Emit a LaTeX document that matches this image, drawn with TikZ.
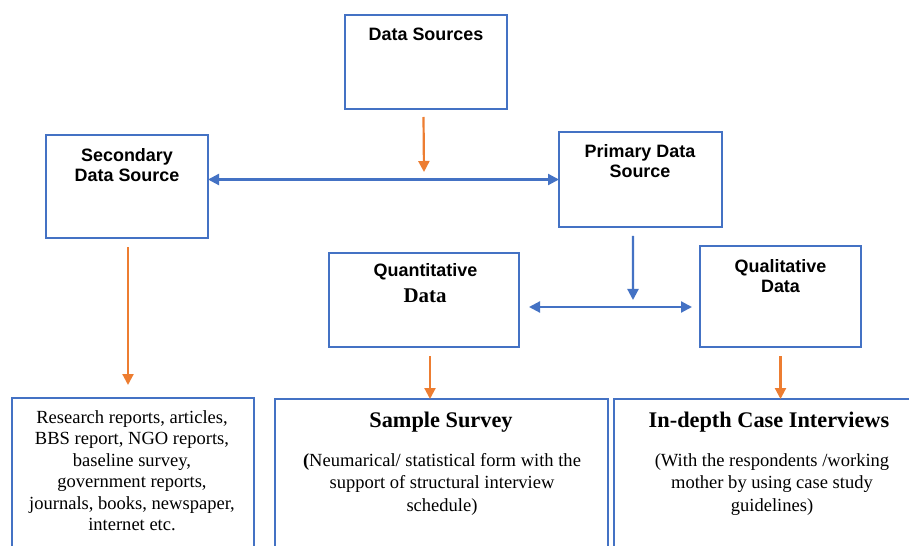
\documentclass[tikz,border=0pt]{standalone}
\usepackage{fontspec}
\setmainfont{Liberation Serif}
\newfontfamily\sansfont{Liberation Sans}
\usetikzlibrary{arrows.meta,calc}
\definecolor{boxblue}{HTML}{4472C4}
\definecolor{arrorange}{HTML}{ED7D31}
\tikzset{
  box/.style={draw=boxblue, line width=1.6bp, anchor=north west, inner sep=0pt, outer sep=0pt},
  hd/.style={font=\sansfont\bfseries\fontsize{18}{21}\selectfont, align=center, anchor=base, inner sep=0pt},
  serifhd/.style={font=\bfseries\fontsize{22.4}{26}\selectfont, align=center, anchor=base, inner sep=0pt},
  body/.style={font=\fontsize{18.6}{21.5}\selectfont, align=center, anchor=base, inner sep=0pt},
  bodyb/.style={font=\fontsize{18.6}{22.2}\selectfont, align=center, anchor=base, inner sep=0pt},
  oarr/.style={draw=arrorange, line width=2.2bp, -{Triangle[length=11bp,width=11bp]}},
  barr/.style={draw=boxblue, line width=2.2bp, -{Triangle[length=11bp,width=11bp]}},
  bdarr/.style={draw=boxblue, line width=2.2bp, {Triangle[length=11bp,width=11bp]}-{Triangle[length=11bp,width=11bp]}}
}
\begin{document}
\begin{tikzpicture}[x=1bp,y=-1bp]
\useasboundingbox (0,0) rectangle (909,546);
\clip (0,0) rectangle (909,546);
\fill[white] (0,0) rectangle (909,546);

% boxes
\node[box, minimum width=162bp, minimum height=94bp] (ds) at (345,15) {};
\node[box, minimum width=162bp, minimum height=103bp] (sec) at (46,135) {};
\node[box, minimum width=163bp, minimum height=95bp] (prim) at (559,132) {};
\node[box, minimum width=190bp, minimum height=94bp] (quant) at (329,253) {};
\node[box, minimum width=161bp, minimum height=101bp] (qual) at (700,246) {};
\node[box, minimum width=242bp, minimum height=170bp] (lit) at (12,398) {};
\node[box, minimum width=333bp, minimum height=170bp] (survey) at (275,399) {};
\node[box, minimum width=310bp, minimum height=170bp] (case) at (614,399) {};

% texts (base anchor = baseline of last line)
\node[hd] (ds-t) at (426,41) {Data Sources};
\node[hd] (sec-t) at (127,182) {Secondary\\Data Source};
\node[hd] (prim-t) at (640,178) {Primary Data\\Source};
\node[hd] (quant-t1) at (425.5,277) {Quantitative};
\node[font=\bfseries\fontsize{21}{24}\selectfont, anchor=base, inner sep=0pt] (quant-t2) at (425,303) {Data};
\node[hd] (qual-t) at (780.5,293) {Qualitative\\Data};
\node[body] (lit-t) at (132,530.5) {Research reports, articles,\\BBS report, NGO reports,\\baseline survey,\\government reports,\\journals, books, newspaper,\\internet etc.};
\node[serifhd] (survey-h) at (441,427) {Sample Survey};
\node[bodyb] (survey-t) at (442,511) {\textbf{(}Neumarical/ statistical form with the\\support of structural interview\\schedule)};
\node[serifhd] (case-h) at (769,427) {In-depth Case Interviews};
\node[bodyb] (case-t) at (772,511) {(With the respondents /working\\mother by using case study\\guidelines)};

% connectors
\coordinate (dsend) at (424,172);
\draw[oarr] ($(ds.south)+(-2.5,8)$) -- (dsend);
\draw[bdarr] (sec.east |- prim.west) -- (prim.west);
\draw[oarr] ($(sec.south)+(1,9)$) -- ($(sec.south |- lit.north)+(1,-13)$);
\coordinate (mid) at (633,307);
\draw[barr] ($(prim.south)+(-7.5,9)$) -- ($(mid)+(0,-7)$);
\draw[bdarr] ($(quant.east |- mid)+(10,0)$) -- ($(qual.west |- mid)+(-8,0)$);
\draw[oarr] ($(quant.south)+(6,9)$) -- ($(quant.south |- survey.north)+(6,0)$);
\draw[oarr] ($(qual.south)+(0,9)$) -- (qual.south |- case.north);
\end{tikzpicture}
\end{document}
